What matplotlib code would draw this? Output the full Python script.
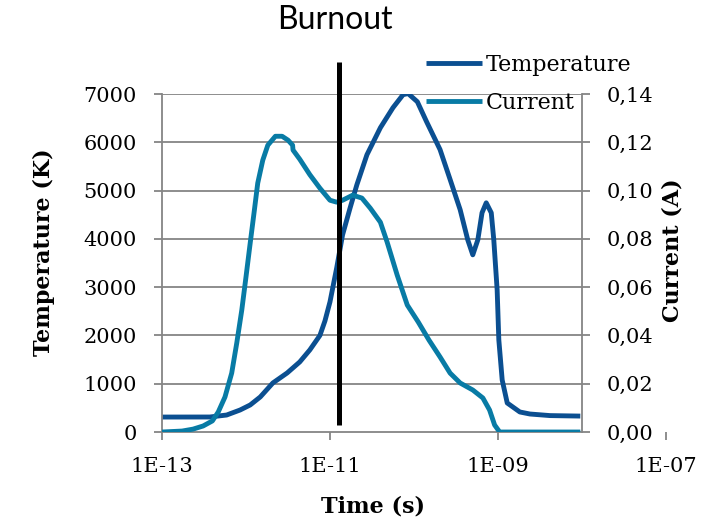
import matplotlib.pyplot as plt
import numpy as np

# time axis values are stored as log10(seconds)
temp_logt = [-13.0, -12.43, -12.23, -12.07, -11.95, -11.83, -11.68, -11.51, -11.36,
             -11.24, -11.12, -11.06, -11.00, -10.92, -10.85, -10.76, -10.68, -10.56,
             -10.40, -10.25, -10.13, -10.07, -9.96, -9.85, -9.69, -9.57, -9.45,
             -9.36, -9.30, -9.24, -9.19, -9.14, -9.08, -9.05, -9.01, -8.99, -8.95,
             -8.89, -8.74, -8.62, -8.38, -8.02]
temperature = [310, 311, 352, 456, 560, 726, 1016, 1223, 1451,
               1700, 2000, 2300, 2695, 3400, 4084, 4644, 5120, 5742,
               6302, 6717, 6986, 7010, 6840, 6426, 5850, 5230, 4602,
               3980, 3669, 3980, 4540, 4747, 4540, 3980, 2944, 1907, 1078,
               601, 415, 373, 340, 330]

curr_logt = [-13.0, -12.76, -12.63, -12.51, -12.40, -12.33, -12.25, -12.17, -12.11,
             -12.05, -12.00, -11.95, -11.90, -11.86, -11.80, -11.74, -11.65, -11.57,
             -11.50, -11.445, -11.44, -11.36, -11.24, -11.12, -11.00, -10.92, -10.85,
             -10.73, -10.62, -10.52, -10.40, -10.32, -10.20, -10.08, -9.95, -9.82,
             -9.69, -9.57, -9.45, -9.30, -9.18, -9.10, -9.04, -8.98, -8.02]
current = [0.0, 0.0004, 0.0012, 0.0025, 0.0046, 0.0083, 0.0145, 0.0244, 0.0368,
           0.0505, 0.0642, 0.0782, 0.0919, 0.1031, 0.1126, 0.1188, 0.1225, 0.1225,
           0.1209, 0.1188, 0.1168, 0.1130, 0.1066, 0.1010, 0.0960, 0.0952, 0.0960,
           0.0981, 0.0969, 0.0927, 0.0869, 0.0787, 0.0650, 0.0526, 0.0456, 0.0380,
           0.0311, 0.0244, 0.0203, 0.0174, 0.0141, 0.0091, 0.0029, 0.0, 0.0]

burnout_logt = -10.893
burnout_span = [145, 7670]

x_ticks = [1e-13, 1e-11, 1e-9, 1e-7]
x_labels = ['1E-13', '1E-11', '1E-09', '1E-07']
temp_ticks = [0, 1000, 2000, 3000, 4000, 5000, 6000, 7000]
curr_ticks = [0.00, 0.02, 0.04, 0.06, 0.08, 0.10, 0.12, 0.14]
curr_labels = ['0,00', '0,02', '0,04', '0,06', '0,08', '0,10', '0,12', '0,14']

plt.rcParams['font.family'] = 'DejaVu Serif'
grey = '#858585'
c_temp = '#0B4F91'
c_curr = '#087BA5'

fig = plt.figure(figsize=(7.07, 5.2), dpi=100)
ax = fig.add_axes([0.2291, 0.1692, 0.7129, 0.65])
ax.set_xscale('log')

t_end = 1e-8
ax.hlines(temp_ticks[1:], 1e-13, t_end, color=grey, lw=1.3, zorder=0)

temp_line, = ax.plot(10 ** np.array(temp_logt), temperature, color=c_temp, lw=3.5,
                     solid_capstyle='butt', solid_joinstyle='round',
                     label='Temperature')

ax2 = ax.twinx()
curr_line, = ax2.plot(10 ** np.array(curr_logt), current, color=c_curr, lw=3.5,
                      solid_capstyle='butt', solid_joinstyle='round',
                      label='Current')
tb = 10 ** burnout_logt
ax2.plot([tb, tb], burnout_span, color='black', lw=3.6, transform=ax.transData,
         clip_on=False, solid_capstyle='butt')

ax.set_xlim(1e-13, 1e-7)
ax.set_ylim(0, 7000)
ax2.set_ylim(0, 0.14)

ax.set_xticks(x_ticks)
ax.set_xticklabels(x_labels)
ax.xaxis.set_minor_locator(plt.NullLocator())
ax.set_yticks(temp_ticks)
ax2.set_yticks(curr_ticks)
ax2.set_yticklabels(curr_labels)

for s in ['top', 'right']:
    ax.spines[s].set_visible(False)
for s in ['top', 'left', 'bottom']:
    ax2.spines[s].set_visible(False)
ax.spines['bottom'].set_bounds(1e-13, t_end)
ax2.spines['right'].set_position(('data', t_end))
for sp in [ax.spines['left'], ax.spines['bottom'], ax2.spines['right']]:
    sp.set_color(grey)
    sp.set_linewidth(1.3)

ax.tick_params(axis='both', direction='out', length=6, width=1.3, color=grey,
               labelsize=15, pad=12)
ax2.tick_params(axis='y', direction='out', length=6, width=1.3, color=grey,
                labelsize=15, pad=12)

fig.text(44 / 707, 1 - 252 / 520, 'Temperature (K)', rotation=90, ha='center',
         va='center', fontsize=16, fontweight='bold')
fig.text(673 / 707, 1 - 250 / 520, 'Current (A)', rotation=90, ha='center',
         va='center', fontsize=16, fontweight='bold')
fig.text(373 / 707, 1 - 507 / 520, 'Time (s)', ha='center', va='center',
         fontsize=16, fontweight='bold')
fig.text(335 / 707, 1 - 20 / 520, 'Burnout', ha='center', va='center',
         fontsize=23, family='Lato')

fig.legend([temp_line, curr_line], ['Temperature', 'Current'], loc='upper left',
           bbox_to_anchor=(426 / 707, 1 - 54 / 520), frameon=False, fontsize=16,
           handlelength=2.5, handletextpad=0.2, labelspacing=0.7, borderpad=0,
           borderaxespad=0)

fig.savefig('out.png', dpi=100)
